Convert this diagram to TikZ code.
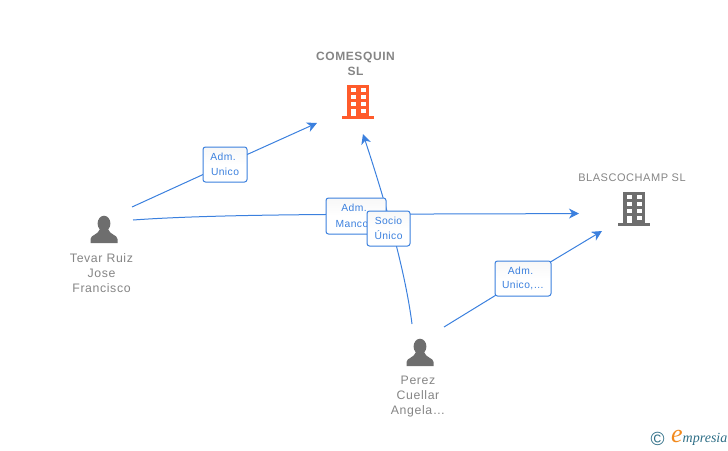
\documentclass[tikz,border=0pt]{standalone}
\usepackage{fontspec}
\setmainfont{Liberation Sans}
\newfontfamily\logofont{Liberation Serif}
\usetikzlibrary{arrows.meta,backgrounds}
\definecolor{linkblue}{HTML}{3B80DE}
\definecolor{namegray}{HTML}{858585}
\definecolor{icongray}{HTML}{6E6E6E}
\definecolor{iconorange}{HTML}{FF5B2B}
\definecolor{logoteal}{HTML}{2E6E86}
\definecolor{logoorange}{HTML}{F28A1E}
\tikzset{
    link/.style={draw=linkblue, line width=1pt},
    linkend/.style={link, -{Stealth[length=10pt,width=10pt,inset=3pt]}},
    rolebox/.style={draw=linkblue, line width=1pt, rounded corners=2.5pt, top color=black!3, bottom color=white,
        middle color=white, text=linkblue, align=center, inner sep=0pt,
        font=\fontsize{10.3}{15}\selectfont\addfontfeature{LetterSpace=4}},
    personname/.style={text=namegray, align=center, inner sep=0pt, font=\fontsize{12.3}{15}\selectfont\addfontfeature{LetterSpace=5}},
    firmname/.style={text=namegray, align=center, inner sep=0pt},
    pics/building/.style={code={
        \fill[#1] (-11,-17) rectangle (11,14);
        \fill[#1] (-16,14) rectangle (16,17);
        \foreach \yy in {-12,-5,2} {
            \fill[white] (-7.5,\yy-2) rectangle (-2.5,\yy+2);
            \fill[white] (2.5,\yy-2) rectangle (7.5,\yy+2);
        }
        \fill[white] (2.5,7) rectangle (7.5,11);
        \fill[white] (-7.5,7) rectangle (-2.5,14);
    }},
    pics/person/.style={code={
        \fill[icongray] (0,-6.5) ellipse (6.4 and 7.8);
        \fill[icongray] (-13.5,13) -- (-13.5,9) .. controls (-13.5,5) and (-6,5) .. (-4,-1)
            -- (4,-1) .. controls (6,5) and (13.5,5) .. (13.5,9) -- (13.5,13) -- cycle;
    }}
}
\begin{document}
\begin{tikzpicture}[x=1pt,y=-1pt]
    \useasboundingbox (0,0) rectangle (728,450);

    % Companies
    \pic at (358,102) {building=iconorange};
    \node[firmname, font=\bfseries\fontsize{12}{15}\selectfont\addfontfeature{LetterSpace=5}] (comesquin) at (355.5,63.5) {COMESQUIN\\SL};
    \pic at (634,209) {building=icongray};
    \node[firmname, font=\fontsize{11}{14}\selectfont\addfontfeature{LetterSpace=5}] (blascochamp) at (632,178) {BLASCOCHAMP SL};

    % People
    \pic at (104,230) {person};
    \node[personname] (tevar) at (101.5,273) {Tevar Ruiz\\Jose\\Francisco};
    \pic at (420,353) {person};
    \node[personname] (perez) at (418,396.5) {Perez\\Cuellar\\Angela\ldots};

    % Role boxes
    \node[rolebox, minimum width=44pt, minimum height=35pt] (admUnico) at (225,164.5) {\raisebox{-1pt}{Adm.}\hspace*{4pt}\\\raisebox{-0.5pt}{Unico}};
    \node[rolebox, minimum width=60pt, minimum height=36pt] (admManco) at (356,216) {Adm.\hspace*{4pt}\\\raisebox{-1pt}{Manco}\hspace*{8pt}};
    \node[rolebox, minimum width=43pt, minimum height=35pt] (socioUnico) at (388.5,228.5) {Socio\\Único};
    \node[rolebox, minimum width=56pt, minimum height=35pt] (admUnicoDots) at (523,278.5) {\raisebox{-1pt}{Adm.}\hspace*{5pt}\\\raisebox{-0.5pt}{Unico,\ldots}};

    % Connector ends
    \coordinate (tevarTop) at (132,207);
    \coordinate (tevarMid) at (133,220);
    \coordinate (perezTop) at (412,324);
    \coordinate (perezRight) at (444,327);
    \coordinate (comesquinLeft) at (317,123);
    \coordinate (comesquinDown) at (363,134);
    \coordinate (blascoLeft) at (579,213.5);
    \coordinate (blascoDown) at (602,231);

    % Arrows
    \begin{pgfonlayer}{background}
        \draw[linkend] (tevarTop) -- (admUnico.center) -- (comesquinLeft);
        \draw[linkend] (tevarMid) .. controls (230,213) and (400,214.5) .. (blascoLeft);
        \draw[linkend] (perezTop) .. controls (407,285) and (394,228) .. (comesquinDown);
        \draw[linkend] (perezRight) -- (admUnicoDots.center) -- (blascoDown);
    \end{pgfonlayer}

    % Logo
    \node[text=logoteal, inner sep=0pt, font=\fontsize{19}{19}\selectfont] (logoMark) at (657.5,438.5) {©};
    \node[inner sep=0pt, anchor=base west, font=\logofont\itshape\fontsize{14}{14}\selectfont, text=logoteal] (logoName) at (671,442.5)
        {{\color{logoorange}\fontsize{26}{22}\selectfont e}mpresia};
\end{tikzpicture}
\end{document}
